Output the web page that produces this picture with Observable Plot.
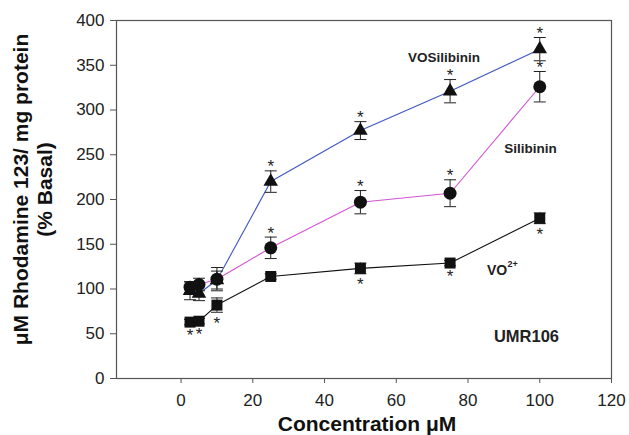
<!DOCTYPE html>
<html><head><meta charset="utf-8">
<script src="https://cdn.jsdelivr.net/npm/d3@7"></script>
<script src="https://cdn.jsdelivr.net/npm/@observablehq/plot@0.6"></script>
<style>
html,body{margin:0;padding:0;background:#fff;}
</style>
</head><body><div id="chart"></div>
<script>
// ---- data ----
const conc = [2.5, 5, 10, 25, 50, 75, 100];
const voSilibinin = [98, 95, 110, 220, 277, 321, 368];
const voSilibininErr = [10, 8, 10, 12, 10, 13, 13];
const silibinin = [102, 105, 111, 146, 197, 207, 326];
const silibininErr = [6, 7, 13, 12, 13, 15, 17];
const vo = [63, 64, 82, 114, 123, 129, 179];
const voErr = [3, 3, 8, 3, 6, 3, 6];
const voSilibininStars = [0, 0, 0, 1, 1, 1, 1];
const silibininStars = [0, 0, 0, 1, 1, 1, 1];
const voStars = [1, 1, 1, 0, 1, 1, 1];
const xTicks = [0, 20, 40, 60, 80, 100, 120];
const yTicks = [0, 50, 100, 150, 200, 250, 300, 350, 400];
const labelText = ["VOSilibinin", "Silibinin", "UMR106"];
const labelX = [73.3, 97.4, 96.3];
const labelY = [359, 257, 46.2];
const voLabel = "VO", voSup = "2+";
const voLabelX = 85.3, voLabelY = 121;

// ---- build table ----
function build(name, vals, errs, stars, symbol, color, starSide) {
  return conc.map((c, i) => ({name, x: c, y: vals[i], err: errs[i], star: stars[i], symbol, color, starSide}));
}
const series = [
  build("VOSilibinin", voSilibinin, voSilibininErr, voSilibininStars, "triangle", "#3f55c4", "up"),
  build("Silibinin", silibinin, silibininErr, silibininStars, "circle", "#d254d2", "up"),
  build("VO2+", vo, voErr, voStars, "square", "#111", "down")
];
const all = series.flat();
const starsUp = all.filter(d => d.star && d.starSide === "up");
const starsDown = all.filter(d => d.star && d.starSide === "down");
const labels = labelText.map((t, i) => ({t, x: labelX[i], y: labelY[i]}));

const cap = {draw(ctx) { ctx.moveTo(-6, 0); ctx.lineTo(6, 0); }};
const font = "Liberation Sans, Arial, Helvetica, sans-serif";
const axisColor = "#555";

const chart = Plot.plot({
  width: 629, height: 435,
  marginLeft: 116, marginRight: 18, marginTop: 20, marginBottom: 57,
  style: {fontFamily: font, background: "#fff", color: "#222"},
  x: {domain: [-18, 120]},
  y: {domain: [0, 400]},
  marks: [
    Plot.frame({stroke: axisColor, strokeWidth: 1.2}),
    Plot.axisX({ticks: xTicks, tickSize: 5, tickPadding: 10, fontSize: 17, label: null, stroke: axisColor, fill: "#222"}),
    Plot.axisY({ticks: yTicks, tickSize: 6, tickPadding: 6, fontSize: 17, label: null, stroke: axisColor, fill: "#222"}),
    // lines
    ...series.map(s => Plot.line(s, {x: "x", y: "y", stroke: s[0].color, strokeWidth: 1.1})),
    // error bars
    Plot.ruleX(all, {x: "x", y1: d => d.y - d.err, y2: d => d.y + d.err, stroke: "#222", strokeWidth: 1}),
    Plot.dot(all, {x: "x", y: d => d.y + d.err, symbol: cap, stroke: "#222", strokeWidth: 1, fill: "none"}),
    Plot.dot(all, {x: "x", y: d => d.y - d.err, symbol: cap, stroke: "#222", strokeWidth: 1, fill: "none"}),
    // markers
    Plot.dot(series[2], {x: "x", y: "y", symbol: "square", r: 6.2, fill: "#111", stroke: "none"}),
    Plot.dot(series[1], {x: "x", y: "y", symbol: "circle", r: 6.5, fill: "#111", stroke: "none"}),
    Plot.dot(series[0], {x: "x", y: "y", symbol: "triangle", r: 5.4, fill: "#111", stroke: "none"}),
    // significance stars
    Plot.text(starsUp, {x: "x", y: d => d.y + d.err, text: () => "*", dy: -4, fontSize: 17, fill: "#222"}),
    Plot.text(starsDown, {x: "x", y: d => d.y - d.err, text: () => "*", dy: 11, fontSize: 17, fill: "#222"}),
    // series labels
    Plot.text(labels, {x: "x", y: "y", text: "t", fontSize: d => d.t === "UMR106" ? 16.5 : 13.5, fontWeight: "bold", fill: "#222"}),
    Plot.text([voLabel], {x: () => voLabelX, y: () => voLabelY, text: d => d, textAnchor: "start", fontSize: 14, fontWeight: "bold", fill: "#222"}),
    Plot.text([voSup], {x: () => voLabelX, y: () => voLabelY, text: d => d, textAnchor: "start", dx: 20.5, dy: -6, fontSize: 9, fontWeight: "bold", fill: "#222"}),
    // axis titles
    Plot.text(["Concentration \u03BCM"], {frameAnchor: "bottom", text: d => d, lineAnchor: "middle", textAnchor: "middle", dy: 46, dx: 3, fontSize: 21, fontWeight: "bold", fill: "#111"}),
    Plot.text(["\u03BCM Rhodamine 123/ mg protein\n(% Basal)"], {frameAnchor: "left", text: d => d, rotate: -90, textAnchor: "middle", lineAnchor: "middle", dx: -84, dy: -10, fontSize: 21, lineHeight: 1.15, fontWeight: "bold", fill: "#111"})
  ]
});
document.getElementById("chart").appendChild(chart);
</script>
</body></html>
